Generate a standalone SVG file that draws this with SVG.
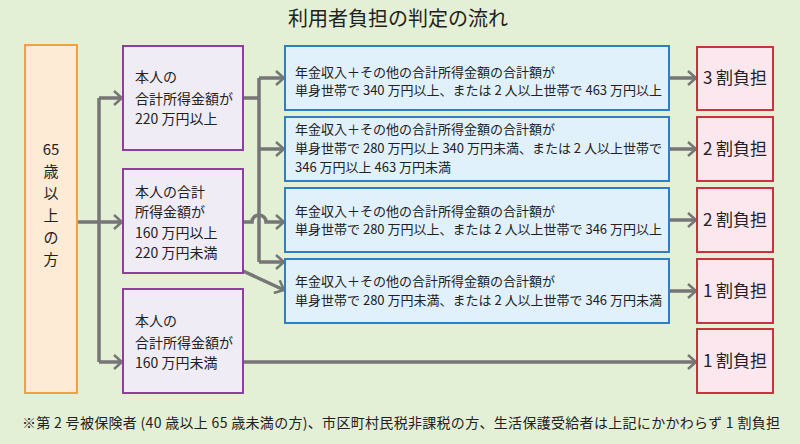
<svg xmlns="http://www.w3.org/2000/svg" width="800" height="444" viewBox="0 0 800 444">
<defs>
<style>
text{font-family:"Noto Sans CJK JP","Noto Sans",sans-serif;fill:#222}
.title{font-size:20px}
.foot{font-size:14px}
.orange{fill:#fdebd6;stroke:#f2a23a;stroke-width:2}
.purple{fill:#f0ecf6;stroke:#8c3f9e;stroke-width:2}
.blue{fill:#e0f1fb;stroke:#2f7ec6;stroke-width:2}
.red{fill:#fce7ef;stroke:#c9333e;stroke-width:2}
.pt{font-size:14px}
.bt{font-size:13px}
.rt{font-size:17px;text-anchor:middle}
.ot{font-size:15px;text-anchor:middle}
.ln{fill:none;stroke:#767676;stroke-width:3.5}
.ar{marker-end:url(#arr)}
</style>
<marker id="arr" viewBox="0 0 10 16" refX="9" refY="8" markerWidth="10" markerHeight="16" orient="auto" markerUnits="userSpaceOnUse">
<path d="M1,1 L9,8 L1,15" fill="none" stroke="#767676" stroke-width="2.5"/>
</marker>
</defs>
<rect width="800" height="444" fill="#e4f0d5"/>
<text class="title" x="398" y="26" text-anchor="middle">利用者負担の判定の流れ</text>

<g id="connectors">
<path class="ln" d="M99,98 V362"/>
<path class="ln ar" d="M77,222 H122"/>
<path class="ln ar" d="M99,98 H122"/>
<path class="ln ar" d="M99,362 H122"/>
<path class="ln" d="M243,98 H259"/>
<path class="ln" d="M259,78 V262"/>
<path class="ln ar" d="M259,78 H284"/>
<path class="ln ar" d="M259,149 H284"/>
<path class="ln ar" d="M259,262 H284"/>
<path class="ln ar" d="M243,222 H252 A7,7 0 0 1 266,222 H284"/>
<path class="ln ar" d="M243,271 L284,290"/>
<path class="ln ar" d="M669,78 H696"/>
<path class="ln ar" d="M669,149 H696"/>
<path class="ln ar" d="M669,220 H696"/>
<path class="ln ar" d="M669,291 H696"/>
<path class="ln ar" d="M243,362 H696"/>
</g>

<g id="n65">
<rect class="orange" x="25" y="45" width="52" height="348"/>
<text class="ot" x="51" y="155">65</text>
<text class="ot" x="51" y="177">歳</text>
<text class="ot" x="51" y="199">以</text>
<text class="ot" x="51" y="221">上</text>
<text class="ot" x="51" y="243">の</text>
<text class="ot" x="51" y="265">方</text>
</g>

<g id="p1">
<rect class="purple" x="123" y="46" width="120" height="104"/>
<text class="pt" x="135" y="82">本人の</text>
<text class="pt" x="135" y="104">合計所得金額が</text>
<text class="pt" x="135" y="124">220 万円以上</text>
</g>
<g id="p2">
<rect class="purple" x="123" y="169" width="120" height="104"/>
<text class="pt" x="135" y="197">本人の合計</text>
<text class="pt" x="135" y="217">所得金額が</text>
<text class="pt" x="135" y="238">160 万円以上</text>
<text class="pt" x="135" y="258">220 万円未満</text>
</g>
<g id="p3">
<rect class="purple" x="123" y="289" width="120" height="104"/>
<text class="pt" x="135" y="326">本人の</text>
<text class="pt" x="135" y="348">合計所得金額が</text>
<text class="pt" x="135" y="368">160 万円未満</text>
</g>

<g id="b1">
<rect class="blue" x="285" y="46" width="384" height="64"/>
<text class="bt" x="295" y="77">年金収入＋その他の合計所得金額の合計額が</text>
<text class="bt" x="295" y="95">単身世帯で 340 万円以上、または 2 人以上世帯で 463 万円以上</text>
</g>
<g id="b2">
<rect class="blue" x="285" y="117" width="384" height="64"/>
<text class="bt" x="295" y="134">年金収入＋その他の合計所得金額の合計額が</text>
<text class="bt" x="295" y="153">単身世帯で 280 万円以上 340 万円未満、または 2 人以上世帯で</text>
<text class="bt" x="295" y="172">346 万円以上 463 万円未満</text>
</g>
<g id="b3">
<rect class="blue" x="285" y="188" width="384" height="64"/>
<text class="bt" x="295" y="216">年金収入＋その他の合計所得金額の合計額が</text>
<text class="bt" x="295" y="234">単身世帯で 280 万円以上、または 2 人以上世帯で 346 万円以上</text>
</g>
<g id="b4">
<rect class="blue" x="285" y="259" width="384" height="64"/>
<text class="bt" x="295" y="286">年金収入＋その他の合計所得金額の合計額が</text>
<text class="bt" x="295" y="305">単身世帯で 280 万円未満、または 2 人以上世帯で 346 万円未満</text>
</g>

<g id="r1">
<rect class="red" x="697" y="47" width="76" height="63"/>
<text class="rt" x="735" y="84">3 割負担</text>
</g>
<g id="r2">
<rect class="red" x="697" y="117" width="76" height="64"/>
<text class="rt" x="735" y="155">2 割負担</text>
</g>
<g id="r3">
<rect class="red" x="697" y="188" width="76" height="64"/>
<text class="rt" x="735" y="226">2 割負担</text>
</g>
<g id="r4">
<rect class="red" x="697" y="259" width="76" height="64"/>
<text class="rt" x="735" y="297">1 割負担</text>
</g>
<g id="r5">
<rect class="red" x="697" y="329" width="76" height="64"/>
<text class="rt" x="735" y="367">1 割負担</text>
</g>

<text class="foot" x="22" y="428" textLength="758" lengthAdjust="spacing">※第 2 号被保険者 (40 歳以上 65 歳未満の方)、市区町村民税非課税の方、生活保護受給者は上記にかかわらず 1 割負担</text>
</svg>
